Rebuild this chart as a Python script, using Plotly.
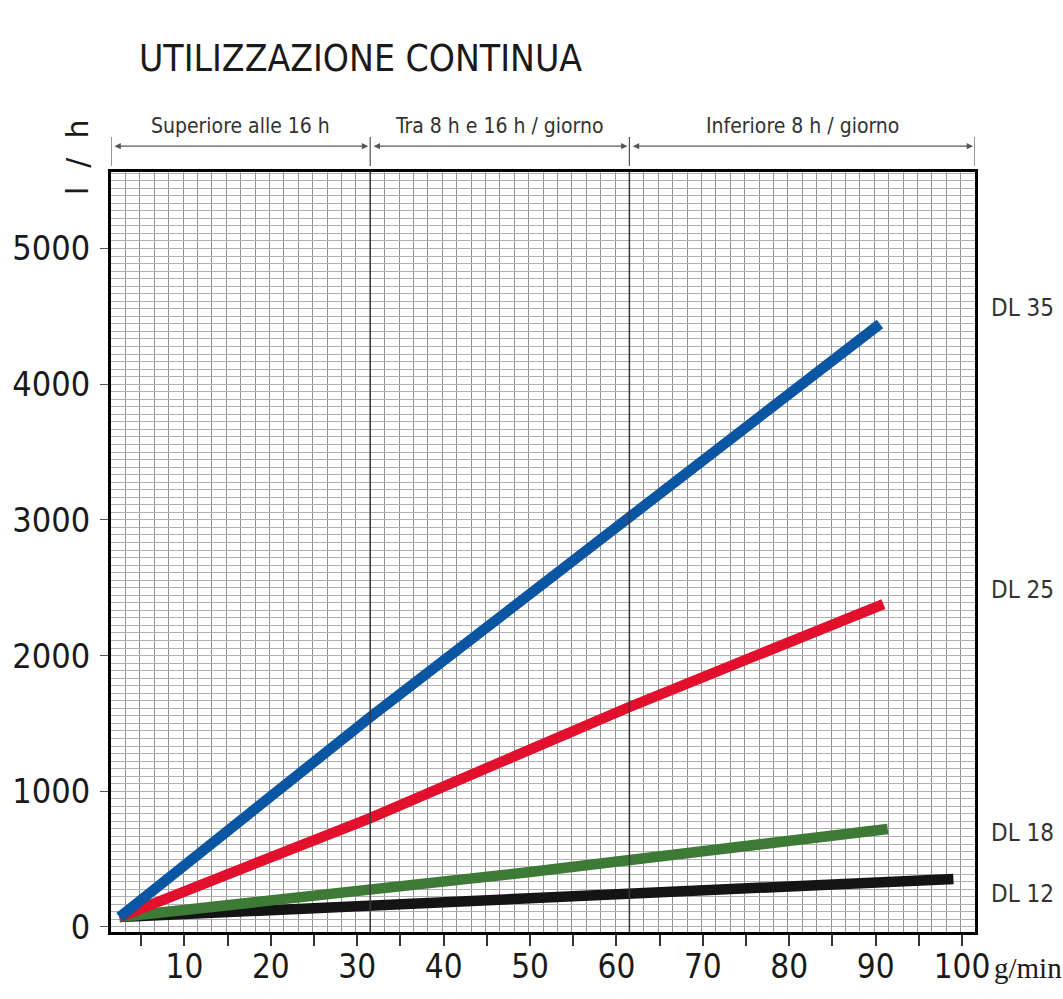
import plotly.graph_objects as go

# ---- data ----
serie_nomi = ["DL 12", "DL 18", "DL 25", "DL 35"]
serie_colori = ["#141414", "#3d7a36", "#e2102c", "#0b56a2"]

x_dl12 = [2.5, 31.5, 99]
y_dl12 = [73, 162, 354]
x_dl18 = [2.5, 31.5, 50, 91.4]
y_dl18 = [73, 273, 405, 722]
x_dl25 = [2.5, 31.5, 61.5, 90.9]
y_dl25 = [73, 803, 1621, 2380]
x_dl35 = [2.5, 31.5, 90.5]
y_dl35 = [73, 1547, 4444]

etichette_y = [243, 693, 2483, 4560]   # y of the right-hand DL labels

periodi_confini = [1.5, 31.5, 61.5, 101.5]
periodi_testi = ["Superiore alle 16 h", "Tra 8 h e 16 h / giorno", "Inferiore 8 h / giorno"]

x_tick_vals = [5, 10, 15, 20, 25, 30, 35, 40, 45, 50, 55, 60, 65, 70, 75, 80, 85, 90, 95, 100]
x_tick_text = ["", "10", "", "20", "", "30", "", "40", "", "50", "", "60", "", "70", "", "80", "", "90", "", "100"]
y_tick_vals = [0, 1000, 2000, 3000, 4000, 5000]

titolo = "UTILIZZAZIONE CONTINUA"
unita_y = "l  /  h"
unita_x = "g/min"

NARROW = "DejaVu Sans Condensed, Liberation Sans Narrow, sans-serif"

fig = go.Figure()
xs = [x_dl12, x_dl18, x_dl25, x_dl35]
ys = [y_dl12, y_dl18, y_dl25, y_dl35]
for nome, col, xv, yv in zip(serie_nomi, serie_colori, xs, ys):
    fig.add_trace(go.Scatter(x=xv, y=yv, mode="lines", name=nome,
                             line=dict(color=col, width=10.5), showlegend=False,
                             hoverinfo="skip"))

# right side series labels
for nome, yl in zip(serie_nomi, etichette_y):
    fig.add_annotation(x=1.016, xref="paper", y=yl, yref="y", text=nome,
                       showarrow=False, xanchor="left", yanchor="middle",
                       font=dict(family=NARROW, size=24, color="#333333"))

# period dividers
for xb in periodi_confini[1:-1]:
    fig.add_shape(type="line", x0=xb, x1=xb, xref="x", y0=0, y1=1, yref="paper",
                  line=dict(color="#3a3a3a", width=1.5), layer="above")
for xb in periodi_confini:
    fig.add_shape(type="line", x0=xb, x1=xb, xref="x", y0=1.008, y1=1.046, yref="paper",
                  line=dict(color="#555555", width=1.2))
for i, testo in enumerate(periodi_testi):
    a, b = periodi_confini[i], periodi_confini[i + 1]
    fig.add_annotation(x=b, xref="x", y=1.034, yref="paper", ax=a, axref="x", ay=0,
                       text="", showarrow=True, arrowhead=2, arrowside="end+start",
                       arrowsize=0.9, arrowwidth=1.4, arrowcolor="#555555",
                       standoff=2, startstandoff=2)
    fig.add_annotation(x=(a + b) / 2, xref="x", y=1.06, yref="paper", text=testo,
                       showarrow=False, yanchor="middle",
                       font=dict(family=NARROW, size=21, color="#333333"))

# title and unit labels
fig.add_annotation(x=0.03, xref="paper", y=1.15, yref="paper", text=titolo,
                   showarrow=False, xanchor="left", yanchor="middle",
                   font=dict(family=NARROW, size=37, color="#1a1a1a"))
fig.add_annotation(x=-0.039, xref="paper", y=1.02, yref="paper", text=unita_y,
                   textangle=-90, showarrow=False, xanchor="center", yanchor="middle",
                   font=dict(family="DejaVu Sans, sans-serif", size=30, color="#1a1a1a"))
fig.add_annotation(x=1.02, xref="paper", y=-0.047, yref="paper", text=unita_x,
                   showarrow=False, xanchor="left", yanchor="middle",
                   font=dict(family="Liberation Serif, serif", size=29, color="#1a1a1a"))

fig.update_layout(
    width=1063, height=999,
    margin=dict(l=111, r=88, t=172, b=67, autoexpand=False),
    paper_bgcolor="white", plot_bgcolor="white",
    xaxis=dict(range=[1.5, 101.5], tickvals=x_tick_vals, ticktext=x_tick_text,
               automargin=False,
               ticks="outside", ticklen=11, tickwidth=1.5, tickcolor="#333333",
               ticklabelstandoff=-8,
               showline=True, linewidth=3, linecolor="black", mirror=True,
               showgrid=False, zeroline=False,
               tickfont=dict(family=NARROW, size=33, color="#1a1a1a"),
               minor=dict(tick0=1.5, dtick=5 / 3, showgrid=True,
                          gridcolor="#909090", gridwidth=1, ticks="")),
    yaxis=dict(range=[-37, 5564], tickvals=y_tick_vals, automargin=False,
               ticks="outside", ticklen=8, tickwidth=1.2, tickcolor="#555555",
               ticklabelstandoff=3,
               showline=True, linewidth=3, linecolor="black", mirror=True,
               showgrid=True, gridcolor="#b0b0b0", gridwidth=1, zeroline=False,
               tickfont=dict(family=NARROW, size=34, color="#1a1a1a"),
               minor=dict(tick0=0, dtick=1000 / 18, showgrid=True,
                          gridcolor="#b0b0b0", gridwidth=1, ticks="")),
)

fig.write_html("out.html", config={"displayModeBar": False},
               post_script="document.body.style.margin='0';document.body.style.overflow='hidden';")
